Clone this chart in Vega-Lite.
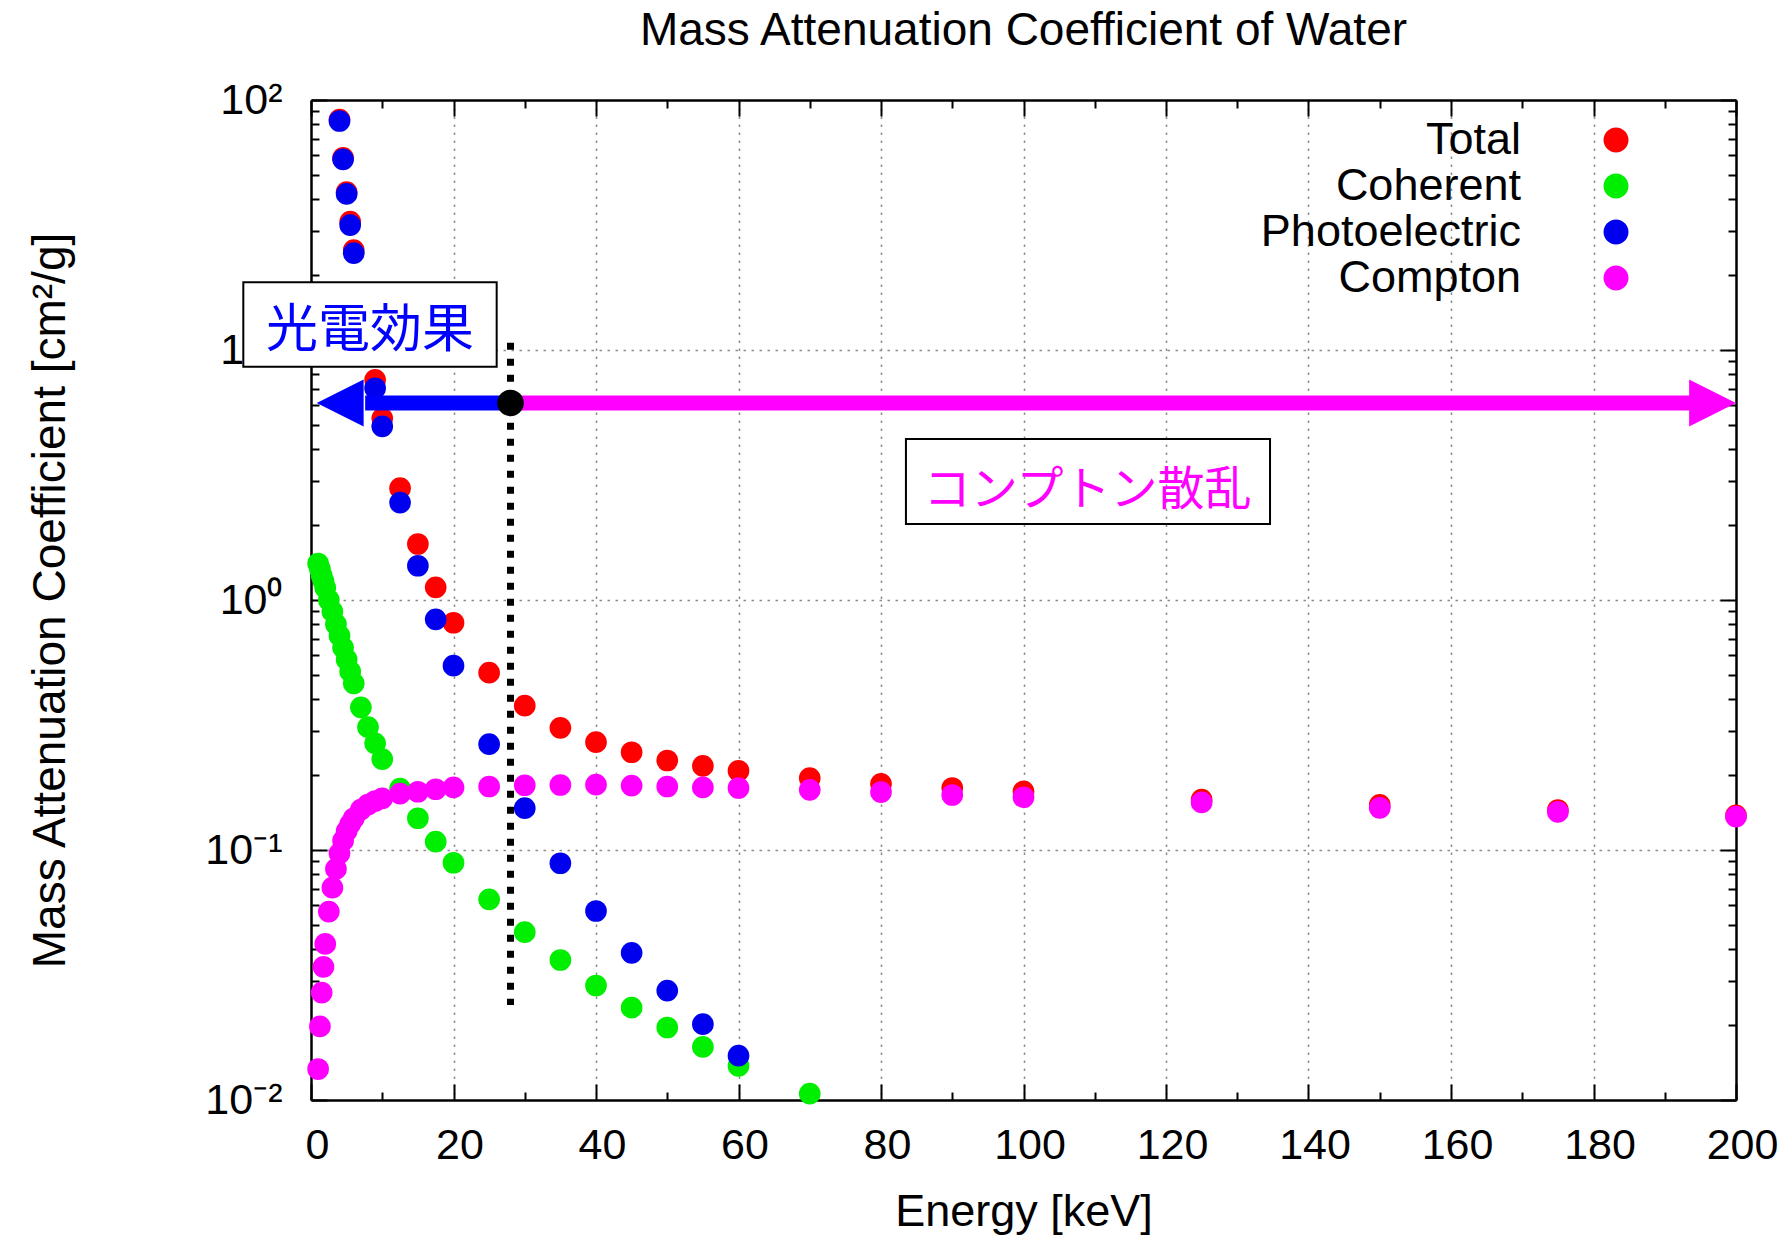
{
  "$schema": "https://vega.github.io/schema/vega-lite/v6.json",
  "width": 1425,
  "height": 1000,
  "autosize": "none",
  "padding": {"left": 311, "top": 100, "right": 51, "bottom": 137},
  "background": "white",
  "title": {
    "text": "Mass Attenuation Coefficient of Water",
    "font": "Liberation Sans",
    "fontSize": 46,
    "fontWeight": "normal",
    "color": "black",
    "anchor": "middle",
    "frame": "group",
    "baseline": "alphabetic",
    "offset": -12
  },
  "config": {"view": {"stroke": null}},
  "datasets": {
    "attenuation": [
      {"energy": 4, "value": 83.5, "series": "Total"},
      {"energy": 4.5, "value": 58.7, "series": "Total"},
      {"energy": 5, "value": 42.8, "series": "Total"},
      {"energy": 5.5, "value": 32.6, "series": "Total"},
      {"energy": 6, "value": 25.1, "series": "Total"},
      {"energy": 7, "value": 16.2, "series": "Total"},
      {"energy": 8, "value": 10.9, "series": "Total"},
      {"energy": 9, "value": 7.59, "series": "Total"},
      {"energy": 10, "value": 5.33, "series": "Total"},
      {"energy": 12.5, "value": 2.80, "series": "Total"},
      {"energy": 15, "value": 1.675, "series": "Total"},
      {"energy": 17.5, "value": 1.124, "series": "Total"},
      {"energy": 20, "value": 0.811, "series": "Total"},
      {"energy": 25, "value": 0.512, "series": "Total"},
      {"energy": 30, "value": 0.378, "series": "Total"},
      {"energy": 35, "value": 0.308, "series": "Total"},
      {"energy": 40, "value": 0.270, "series": "Total"},
      {"energy": 45, "value": 0.246, "series": "Total"},
      {"energy": 50, "value": 0.228, "series": "Total"},
      {"energy": 55, "value": 0.217, "series": "Total"},
      {"energy": 60, "value": 0.2075, "series": "Total"},
      {"energy": 70, "value": 0.194, "series": "Total"},
      {"energy": 80, "value": 0.184, "series": "Total"},
      {"energy": 90, "value": 0.177, "series": "Total"},
      {"energy": 100, "value": 0.1715, "series": "Total"},
      {"energy": 125, "value": 0.159, "series": "Total"},
      {"energy": 150, "value": 0.1515, "series": "Total"},
      {"energy": 175, "value": 0.1445, "series": "Total"},
      {"energy": 200, "value": 0.1375, "series": "Total"},
      {"energy": 1, "value": 1.40, "series": "Coherent"},
      {"energy": 1.25, "value": 1.33, "series": "Coherent"},
      {"energy": 1.5, "value": 1.25, "series": "Coherent"},
      {"energy": 1.75, "value": 1.19, "series": "Coherent"},
      {"energy": 2, "value": 1.12, "series": "Coherent"},
      {"energy": 2.5, "value": 1.00, "series": "Coherent"},
      {"energy": 3, "value": 0.90, "series": "Coherent"},
      {"energy": 3.5, "value": 0.80, "series": "Coherent"},
      {"energy": 4, "value": 0.72, "series": "Coherent"},
      {"energy": 4.5, "value": 0.645, "series": "Coherent"},
      {"energy": 5, "value": 0.578, "series": "Coherent"},
      {"energy": 5.5, "value": 0.518, "series": "Coherent"},
      {"energy": 6, "value": 0.464, "series": "Coherent"},
      {"energy": 7, "value": 0.372, "series": "Coherent"},
      {"energy": 8, "value": 0.31, "series": "Coherent"},
      {"energy": 9, "value": 0.267, "series": "Coherent"},
      {"energy": 10, "value": 0.231, "series": "Coherent"},
      {"energy": 12.5, "value": 0.176, "series": "Coherent"},
      {"energy": 15, "value": 0.134, "series": "Coherent"},
      {"energy": 17.5, "value": 0.108, "series": "Coherent"},
      {"energy": 20, "value": 0.0889, "series": "Coherent"},
      {"energy": 25, "value": 0.0635, "series": "Coherent"},
      {"energy": 30, "value": 0.0469, "series": "Coherent"},
      {"energy": 35, "value": 0.0363, "series": "Coherent"},
      {"energy": 40, "value": 0.0287, "series": "Coherent"},
      {"energy": 45, "value": 0.0234, "series": "Coherent"},
      {"energy": 50, "value": 0.0195, "series": "Coherent"},
      {"energy": 55, "value": 0.0163, "series": "Coherent"},
      {"energy": 60, "value": 0.0137, "series": "Coherent"},
      {"energy": 70, "value": 0.0106, "series": "Coherent"},
      {"energy": 4, "value": 82.4, "series": "Photoelectric"},
      {"energy": 4.5, "value": 57.9, "series": "Photoelectric"},
      {"energy": 5, "value": 42.1, "series": "Photoelectric"},
      {"energy": 5.5, "value": 31.6, "series": "Photoelectric"},
      {"energy": 6, "value": 24.4, "series": "Photoelectric"},
      {"energy": 7, "value": 15.5, "series": "Photoelectric"},
      {"energy": 8, "value": 10.3, "series": "Photoelectric"},
      {"energy": 9, "value": 7.03, "series": "Photoelectric"},
      {"energy": 10, "value": 4.95, "series": "Photoelectric"},
      {"energy": 12.5, "value": 2.45, "series": "Photoelectric"},
      {"energy": 15, "value": 1.371, "series": "Photoelectric"},
      {"energy": 17.5, "value": 0.837, "series": "Photoelectric"},
      {"energy": 20, "value": 0.546, "series": "Photoelectric"},
      {"energy": 25, "value": 0.265, "series": "Photoelectric"},
      {"energy": 30, "value": 0.147, "series": "Photoelectric"},
      {"energy": 35, "value": 0.0885, "series": "Photoelectric"},
      {"energy": 40, "value": 0.057, "series": "Photoelectric"},
      {"energy": 45, "value": 0.0388, "series": "Photoelectric"},
      {"energy": 50, "value": 0.0274, "series": "Photoelectric"},
      {"energy": 55, "value": 0.0201, "series": "Photoelectric"},
      {"energy": 60, "value": 0.01504, "series": "Photoelectric"},
      {"energy": 1, "value": 0.0133, "series": "Compton"},
      {"energy": 1.25, "value": 0.0197, "series": "Compton"},
      {"energy": 1.5, "value": 0.0269, "series": "Compton"},
      {"energy": 1.75, "value": 0.0341, "series": "Compton"},
      {"energy": 2, "value": 0.0421, "series": "Compton"},
      {"energy": 2.5, "value": 0.0567, "series": "Compton"},
      {"energy": 3, "value": 0.0707, "series": "Compton"},
      {"energy": 3.5, "value": 0.084, "series": "Compton"},
      {"energy": 4, "value": 0.097, "series": "Compton"},
      {"energy": 4.5, "value": 0.109, "series": "Compton"},
      {"energy": 5, "value": 0.119, "series": "Compton"},
      {"energy": 5.5, "value": 0.127, "series": "Compton"},
      {"energy": 6, "value": 0.134, "series": "Compton"},
      {"energy": 7, "value": 0.145, "series": "Compton"},
      {"energy": 8, "value": 0.152, "series": "Compton"},
      {"energy": 9, "value": 0.157, "series": "Compton"},
      {"energy": 10, "value": 0.161, "series": "Compton"},
      {"energy": 12.5, "value": 0.168, "series": "Compton"},
      {"energy": 15, "value": 0.171, "series": "Compton"},
      {"energy": 17.5, "value": 0.175, "series": "Compton"},
      {"energy": 20, "value": 0.178, "series": "Compton"},
      {"energy": 25, "value": 0.1795, "series": "Compton"},
      {"energy": 30, "value": 0.1815, "series": "Compton"},
      {"energy": 35, "value": 0.182, "series": "Compton"},
      {"energy": 40, "value": 0.1825, "series": "Compton"},
      {"energy": 45, "value": 0.181, "series": "Compton"},
      {"energy": 50, "value": 0.1795, "series": "Compton"},
      {"energy": 55, "value": 0.178, "series": "Compton"},
      {"energy": 60, "value": 0.177, "series": "Compton"},
      {"energy": 70, "value": 0.174, "series": "Compton"},
      {"energy": 80, "value": 0.1705, "series": "Compton"},
      {"energy": 90, "value": 0.166, "series": "Compton"},
      {"energy": 100, "value": 0.1625, "series": "Compton"},
      {"energy": 125, "value": 0.155, "series": "Compton"},
      {"energy": 150, "value": 0.1475, "series": "Compton"},
      {"energy": 175, "value": 0.142, "series": "Compton"},
      {"energy": 200, "value": 0.136, "series": "Compton"}
    ],
    "divider": [{"energy": 28, "top": 10.7, "bottom": 0.024}],
    "arrows": [
      {"process": "photoelectric", "from": 7.6, "to": 28, "tip": 0.8, "level": 6.14},
      {"process": "compton", "from": 28, "to": 193.7, "tip": 200, "level": 6.14}
    ],
    "threshold": [{"energy": 28, "level": 6.14}],
    "notes": [
      {"process": "photoelectric", "text": "光電効果", "left": -9.5, "right": 26.06, "upper": 18.66, "lower": 8.58, "cx": 8.28, "cy": 11.91},
      {"process": "compton", "text": "コンプトン散乱", "left": 83.5, "right": 134.6, "upper": 4.406, "lower": 2.014, "cx": 109.0, "cy": 2.72}
    ]
  },
  "layer": [
    {
      "data": {"name": "attenuation"},
      "mark": {"type": "point", "filled": true, "opacity": 1, "size": 470, "shape": "circle", "strokeWidth": 0},
      "encoding": {
        "x": {
          "field": "energy", "type": "quantitative",
          "scale": {"domain": [0, 200], "nice": false, "zero": false},
          "axis": {
            "orient": "bottom",
            "values": [0,10,20,30,40,50,60,70,80,90,100,110,120,130,140,150,160,170,180,190,200],
            "labelExpr": "datum.value % 20 == 0 ? datum.label : ''",
            "labelFont": "Liberation Sans", "labelFontSize": 43, "labelColor": "black",
            "labelPadding": 40, "labelOffset": 6, "labelFlush": false, "labelOverlap": false, "labelBaseline": "top", "labelAlign": "center",
            "tickColor": "black", "tickWidth": 2,
            "tickSize": {"condition": {"test": "datum.value % 20 == 0", "value": -16}, "value": -8},
            "grid": true, "gridColor": "#8c8c8c", "gridWidth": 1.5, "gridDash": [2.5, 5.5],
            "gridOpacity": {"condition": {"test": "datum.value % 20 == 0 && datum.value > 0 && datum.value < 200", "value": 1}, "value": 0},
            "domainColor": "black", "domainWidth": 2.5,
            "title": "Energy [keV]", "titleFont": "Liberation Sans", "titleFontSize": 45, "titleFontWeight": "normal", "titleColor": "black",
            "titleX": 712.5, "titleY": 125, "titleBaseline": "alphabetic", "titleAlign": "center"
          }
        },
        "y": {
          "field": "value", "type": "quantitative",
          "scale": {"type": "log", "domain": [0.01, 100], "nice": false},
          "axis": {
            "orient": "left",
            "values": [0.01,0.02,0.03,0.04,0.05,0.06,0.07,0.08,0.09,0.1,0.2,0.3,0.4,0.5,0.6,0.7,0.8,0.9,1,2,3,4,5,6,7,8,9,10,20,30,40,50,60,70,80,90,100],
            "labelExpr": "datum.value == 100 ? '10²' : datum.value == 10 ? '10¹' : datum.value == 1 ? '10⁰' : datum.value == 0.1 ? '10⁻¹' : datum.value == 0.01 ? '10⁻²' : ''",
            "labelFont": "Liberation Sans", "labelFontSize": 43, "labelColor": "black",
            "labelPadding": 45, "labelFlush": false, "labelOverlap": false, "labelBaseline": "middle", "labelAlign": "right",
            "tickColor": "black", "tickWidth": 2,
            "tickSize": {"condition": {"test": "indexof([0.01,0.1,1,10,100], datum.value) >= 0", "value": -16}, "value": -8},
            "grid": true, "gridColor": "#8c8c8c", "gridWidth": 1.5, "gridDash": [2.5, 5.5],
            "gridOpacity": {"condition": {"test": "indexof([0.1,1,10], datum.value) >= 0", "value": 1}, "value": 0},
            "domainColor": "black", "domainWidth": 2.5,
            "title": "Mass Attenuation Coefficient [cm²/g]", "titleFont": "Liberation Sans", "titleFontSize": 46, "titleFontWeight": "normal", "titleColor": "black",
            "titleX": -247, "titleY": 500, "titleAngle": 270, "titleBaseline": "alphabetic", "titleAlign": "center"
          }
        },
        "color": {
          "field": "series", "type": "nominal",
          "scale": {"domain": ["Total", "Coherent", "Photoelectric", "Compton"], "range": ["#ff0000", "#00ee00", "#0000ee", "#ff00ff"]},
          "legend": {
            "orient": "none", "legendX": 910, "legendY": 17.6, "padding": 0,
            "title": null, "direction": "vertical",
            "symbolType": "M-1.8,0M28.8,0A1,1,0,1,1,30.8,0A1,1,0,1,1,28.8,0Z",
            "symbolSize": 625, "symbolOpacity": 1, "symbolStrokeWidth": 0,
            "labelFont": "Liberation Sans", "labelFontSize": 45, "labelColor": "black", "labelLimit": 600,
            "labelAlign": "right", "labelOffset": 255, "labelBaseline": "middle", "rowPadding": -0.9
          }
        }
      }
    },
    {
      "data": {"name": "divider"},
      "mark": {"type": "rule", "color": "black", "strokeWidth": 7, "strokeDash": [7, 9], "strokeCap": "butt"},
      "encoding": {
        "x": {"field": "energy", "type": "quantitative", "scale": {"domain": [0, 200], "nice": false, "zero": false}, "axis": null},
        "y": {"field": "top", "type": "quantitative", "scale": {"type": "log", "domain": [0.01, 100], "nice": false}, "axis": null},
        "y2": {"field": "bottom"}
      }
    },
    {
      "data": {"name": "arrows"},
      "transform": [{"filter": "datum.process == 'photoelectric'"}],
      "mark": {"type": "rule", "color": "#0000ff", "strokeWidth": 15, "strokeCap": "butt"},
      "encoding": {
        "x": {"field": "from", "type": "quantitative", "scale": {"domain": [0, 200], "nice": false, "zero": false}, "axis": null},
        "x2": {"field": "to"},
        "y": {"field": "level", "type": "quantitative", "scale": {"type": "log", "domain": [0.01, 100], "nice": false}, "axis": null}
      }
    },
    {
      "data": {"name": "arrows"},
      "transform": [{"filter": "datum.process == 'compton'"}],
      "mark": {"type": "rule", "color": "#ff00ff", "strokeWidth": 15, "strokeCap": "butt"},
      "encoding": {
        "x": {"field": "from", "type": "quantitative", "scale": {"domain": [0, 200], "nice": false, "zero": false}, "axis": null},
        "x2": {"field": "to"},
        "y": {"field": "level", "type": "quantitative", "scale": {"type": "log", "domain": [0.01, 100], "nice": false}, "axis": null}
      }
    },
    {
      "data": {"name": "arrows"},
      "transform": [{"filter": "datum.process == 'photoelectric'"}],
      "mark": {"type": "point", "shape": "M0,0L2,-1L2,1Z", "filled": true, "opacity": 1, "color": "#0000ff", "size": 2200, "strokeWidth": 0},
      "encoding": {
        "x": {"field": "tip", "type": "quantitative", "scale": {"domain": [0, 200], "nice": false, "zero": false}, "axis": null},
        "y": {"field": "level", "type": "quantitative", "scale": {"type": "log", "domain": [0.01, 100], "nice": false}, "axis": null}
      }
    },
    {
      "data": {"name": "arrows"},
      "transform": [{"filter": "datum.process == 'compton'"}],
      "mark": {"type": "point", "shape": "M0,0L-2,-1L-2,1Z", "filled": true, "opacity": 1, "color": "#ff00ff", "size": 2200, "strokeWidth": 0},
      "encoding": {
        "x": {"field": "tip", "type": "quantitative", "scale": {"domain": [0, 200], "nice": false, "zero": false}, "axis": null},
        "y": {"field": "level", "type": "quantitative", "scale": {"type": "log", "domain": [0.01, 100], "nice": false}, "axis": null}
      }
    },
    {
      "data": {"name": "threshold"},
      "mark": {"type": "point", "shape": "circle", "filled": true, "opacity": 1, "color": "black", "size": 707, "strokeWidth": 0},
      "encoding": {
        "x": {
          "field": "energy", "type": "quantitative",
          "scale": {"domain": [0, 200], "nice": false, "zero": false},
          "axis": {
            "orient": "top", "title": null, "labels": false, "grid": false,
            "values": [0,10,20,30,40,50,60,70,80,90,100,110,120,130,140,150,160,170,180,190,200],
            "tickColor": "black", "tickWidth": 2,
            "tickSize": {"condition": {"test": "datum.value % 20 == 0", "value": -16}, "value": -8},
            "domainColor": "black", "domainWidth": 2.5
          }
        },
        "y": {
          "field": "level", "type": "quantitative",
          "scale": {"type": "log", "domain": [0.01, 100], "nice": false},
          "axis": {
            "orient": "right", "title": null, "labels": false, "grid": false,
            "values": [0.01,0.02,0.03,0.04,0.05,0.06,0.07,0.08,0.09,0.1,0.2,0.3,0.4,0.5,0.6,0.7,0.8,0.9,1,2,3,4,5,6,7,8,9,10,20,30,40,50,60,70,80,90,100],
            "tickColor": "black", "tickWidth": 2,
            "tickSize": {"condition": {"test": "indexof([0.01,0.1,1,10,100], datum.value) >= 0", "value": -16}, "value": -8},
            "domainColor": "black", "domainWidth": 2.5
          }
        }
      }
    },
    {
      "data": {"name": "notes"},
      "transform": [{"filter": "datum.process == 'photoelectric'"}],
      "mark": {"type": "rect", "fill": "white", "stroke": "black", "strokeWidth": 2},
      "encoding": {
        "x": {"field": "left", "type": "quantitative", "scale": {"domain": [0, 200], "nice": false, "zero": false}, "axis": null},
        "x2": {"field": "right"},
        "y": {"field": "upper", "type": "quantitative", "scale": {"type": "log", "domain": [0.01, 100], "nice": false}, "axis": null},
        "y2": {"field": "lower"}
      }
    },
    {
      "data": {"name": "notes"},
      "transform": [{"filter": "datum.process == 'compton'"}],
      "mark": {"type": "rect", "filled": false, "stroke": "black", "strokeWidth": 2},
      "encoding": {
        "x": {"field": "left", "type": "quantitative", "scale": {"domain": [0, 200], "nice": false, "zero": false}, "axis": null},
        "x2": {"field": "right"},
        "y": {"field": "upper", "type": "quantitative", "scale": {"type": "log", "domain": [0.01, 100], "nice": false}, "axis": null},
        "y2": {"field": "lower"}
      }
    },
    {
      "data": {"name": "notes"},
      "transform": [{"filter": "datum.process == 'photoelectric'"}],
      "mark": {"type": "text", "font": "Noto Sans CJK JP", "fontSize": 52, "color": "#0000ff", "align": "center", "baseline": "middle"},
      "encoding": {
        "x": {"field": "cx", "type": "quantitative", "scale": {"domain": [0, 200], "nice": false, "zero": false}, "axis": null},
        "y": {"field": "cy", "type": "quantitative", "scale": {"type": "log", "domain": [0.01, 100], "nice": false}, "axis": null},
        "text": {"field": "text"}
      }
    },
    {
      "data": {"name": "notes"},
      "transform": [{"filter": "datum.process == 'compton'"}],
      "mark": {"type": "text", "font": "Noto Sans CJK JP", "fontSize": 47, "color": "#ff00ff", "align": "center", "baseline": "middle"},
      "encoding": {
        "x": {"field": "cx", "type": "quantitative", "scale": {"domain": [0, 200], "nice": false, "zero": false}, "axis": null},
        "y": {"field": "cy", "type": "quantitative", "scale": {"type": "log", "domain": [0.01, 100], "nice": false}, "axis": null},
        "text": {"field": "text"}
      }
    }
  ],
  "resolve": {"axis": {"x": "independent", "y": "independent"}}
}
